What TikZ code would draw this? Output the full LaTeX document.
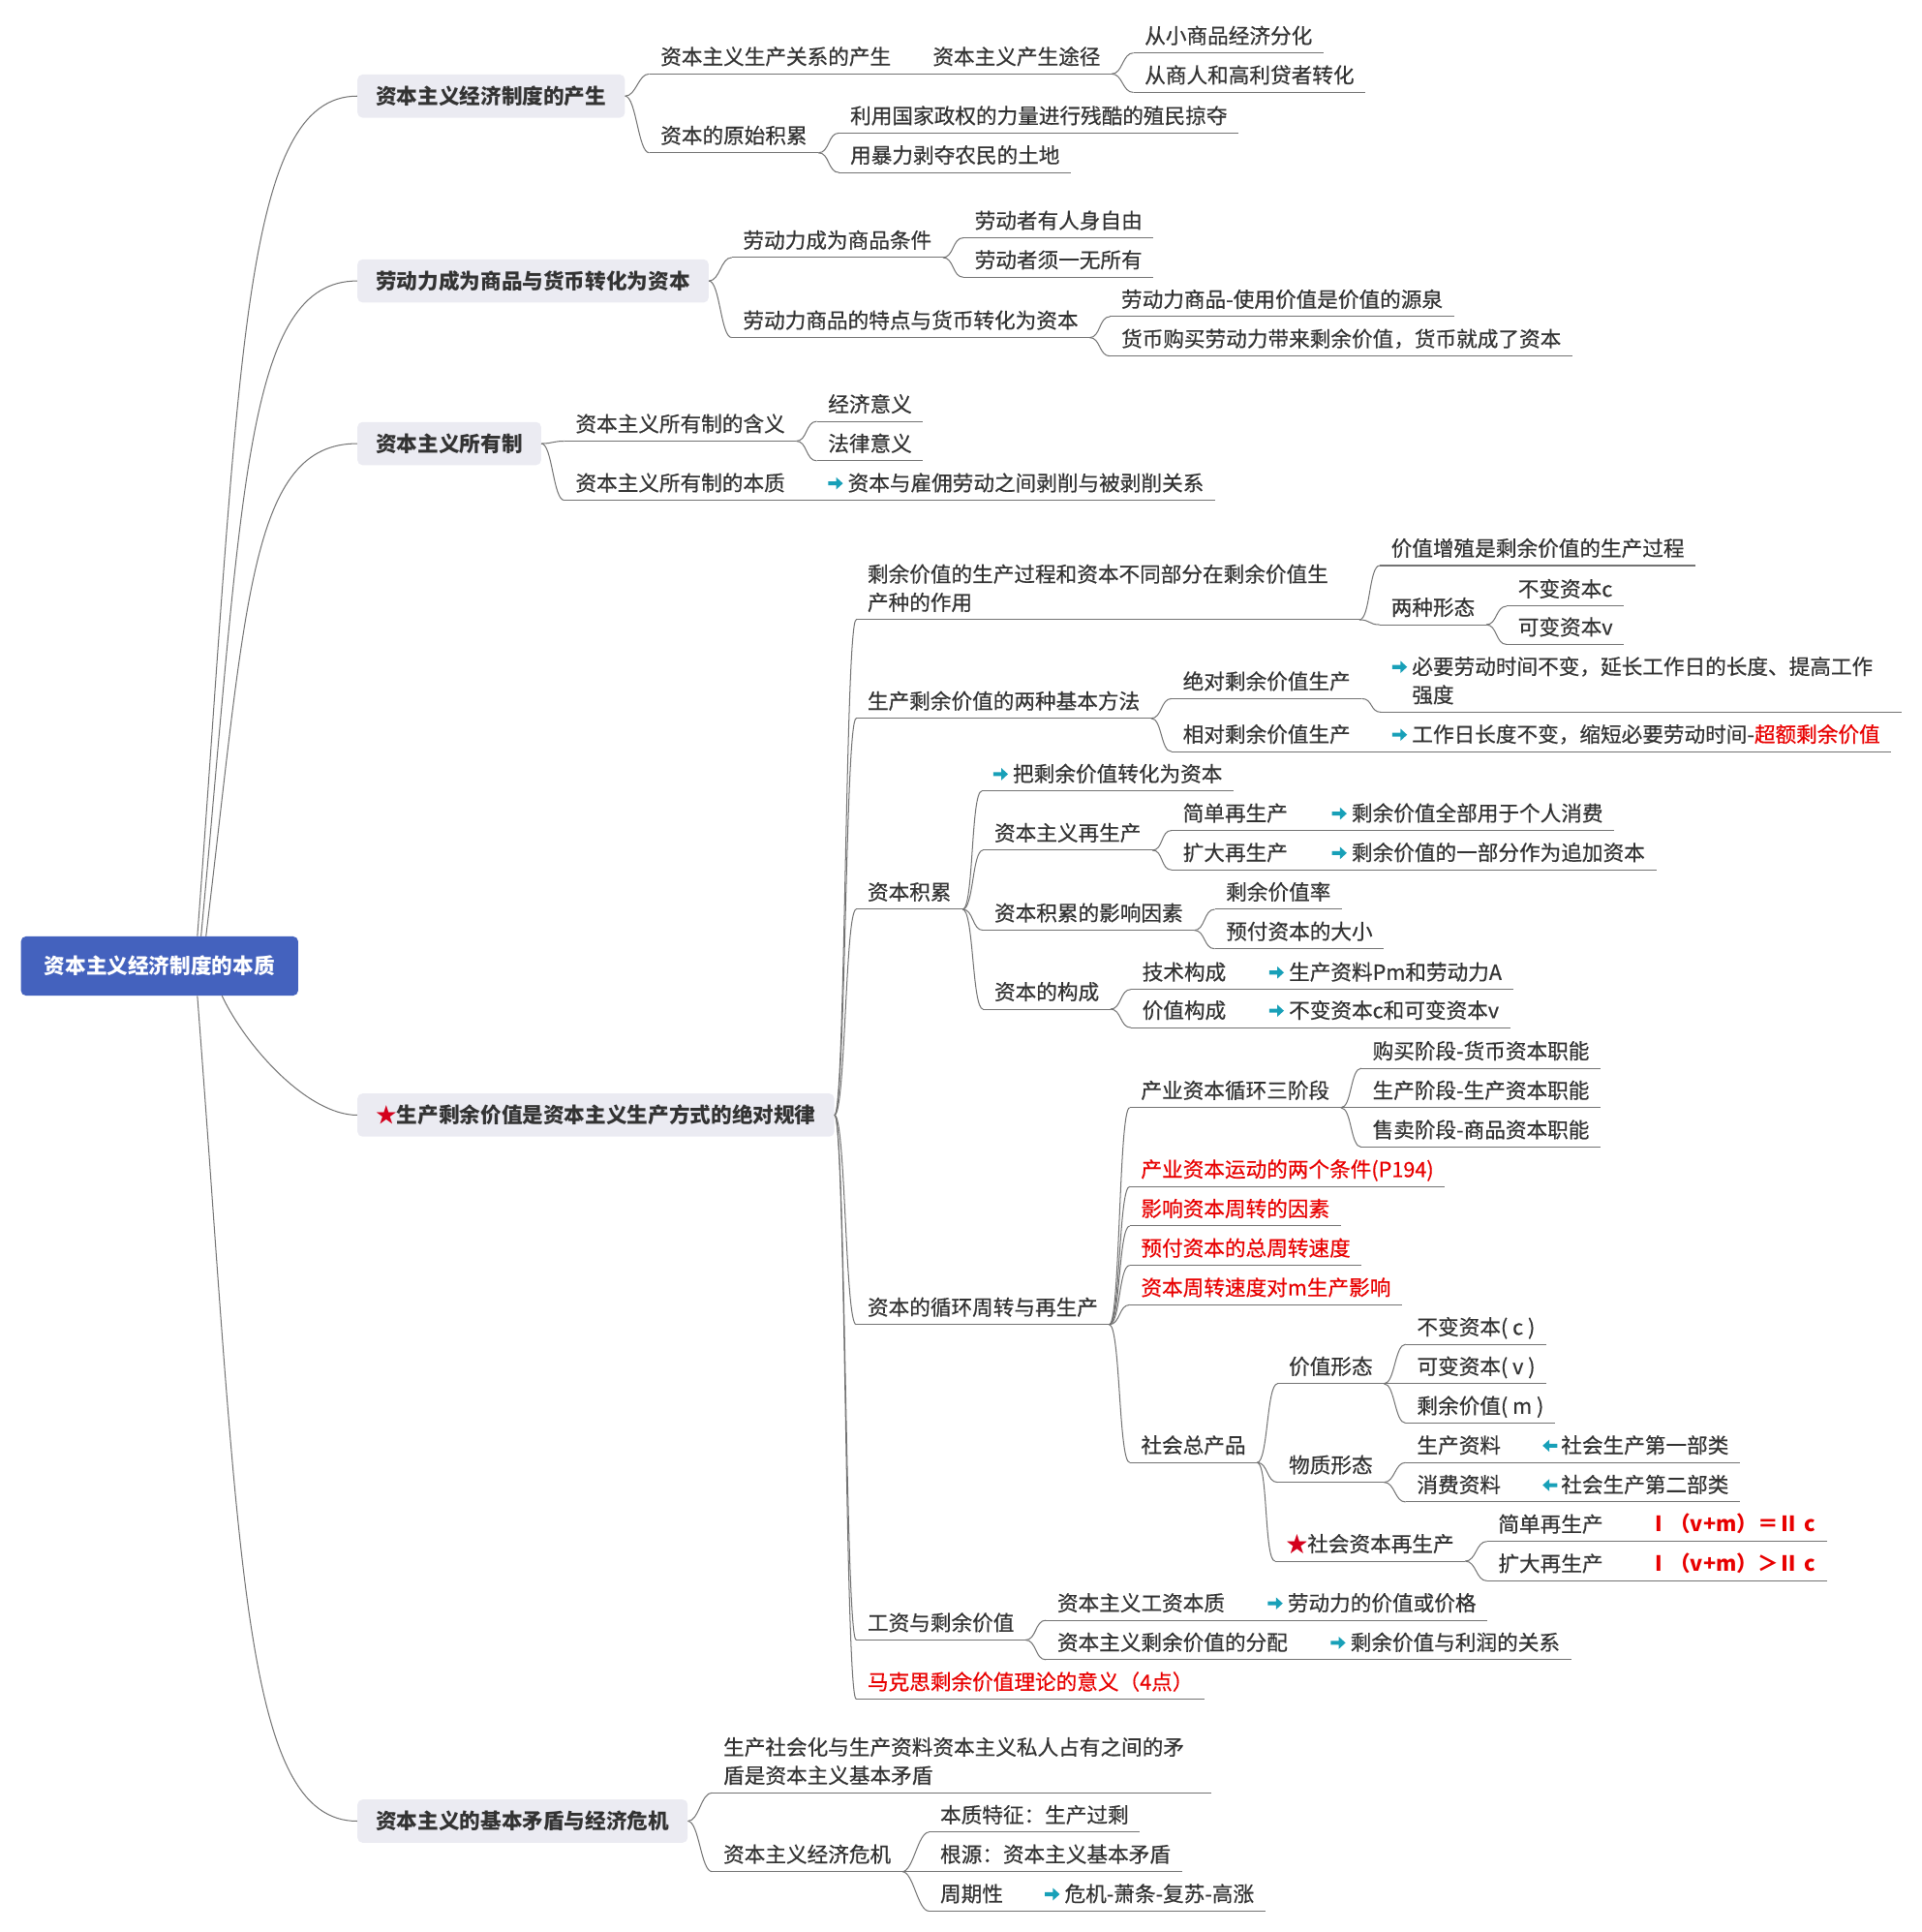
\documentclass[tikz,border=0pt]{standalone}
\usepackage{fontspec}
\setmainfont{Noto Sans CJK SC}[UprightFeatures={FakeBold=0.45}]
\definecolor{rootblue}{RGB}{68,98,190}
\definecolor{mainfill}{RGB}{235,235,242}
\definecolor{linegray}{RGB}{115,115,115}
\definecolor{textgray}{RGB}{51,51,51}
\definecolor{hotred}{RGB}{232,0,0}
\definecolor{starred}{RGB}{212,0,28}
\definecolor{iconteal}{RGB}{24,160,184}
% small arrow icons in front of some topics
\newcommand{\iconright}{\tikz[x=1pt,y=1pt,baseline=0pt]\fill[iconteal] (0,4.4) -- (6.5,4.4) -- (6.5,1) -- (12,6) -- (6.5,11) -- (6.5,7.6) -- (0,7.6) -- cycle;\hspace{4pt}}
\newcommand{\iconleft}{\tikz[x=1pt,y=1pt,baseline=0pt]\fill[iconteal] (12,4.4) -- (5.5,4.4) -- (5.5,1) -- (0,6) -- (5.5,11) -- (5.5,7.6) -- (12,7.6) -- cycle;\hspace{3pt}}
\tikzset{%
	root/.style    = {fill=rootblue, rounded corners=4pt, text=white, font=\bfseries\fontsize{17}{23}\selectfont,
		minimum width=225pt, minimum height=48pt},
	main/.style    = {fill=mainfill, rounded corners=4pt, anchor=west, font=\bfseries\fontsize{17}{23}\selectfont,
		minimum height=35pt, inner xsep=15pt},
	topic/.style   = {anchor=south west, inner xsep=9pt, inner ysep=0pt, text height=12.5pt, text depth=7.5pt},
	hot/.style     = {topic, text=hotred},
	formula/.style = {hot, font=\bfseries\fontsize{17}{23}\selectfont},
	twoline/.style = {align=left, text depth=30.5pt},
	branch/.style  = {draw=linegray, line width=0.8pt},
	scurve/.style  = {to path={.. controls +(9,0) and +(-9,0) .. (\tikztotarget)}}
}

\begin{document}
\begin{tikzpicture}[x=1pt,y=-1pt,font=\fontsize{17}{23}\selectfont,text=textgray]
	\useasboundingbox (0,0) rectangle (1560,1568);

	\node[root] (root) at (129.5,784) {资本主义经济制度的本质};
	\node[main] (pA) at (290,78)   {资本主义经济制度的产生};
	\node[main] (pB) at (290,228)  {劳动力成为商品与货币转化为资本};
	\node[main] (pC) at (290,360)  {资本主义所有制};
	\node[main] (pD) at (290,905)  {\textcolor{starred}{★}生产剩余价值是资本主义生产方式的绝对规律};
	\node[main] (pE) at (290,1478) {资本主义的基本矛盾与经济危机};

	% 产生
	\node[topic] (a1)   at (527,60)  {资本主义生产关系的产生};
	\node[topic] (a11)  at (748,60)  {资本主义产生途径};
	\node[topic] (a111) at (920,43)  {从小商品经济分化};
	\node[topic] (a112) at (920,75)  {从商人和高利贷者转化};
	\node[topic] (a2)   at (527,124) {资本的原始积累};
	\node[topic] (a21)  at (681,108) {利用国家政权的力量进行残酷的殖民掠夺};
	\node[topic] (a22)  at (681,140) {用暴力剥夺农民的土地};

	% 劳动力
	\node[topic] (b1)  at (594,209) {劳动力成为商品条件};
	\node[topic] (b11) at (782,193) {劳动者有人身自由};
	\node[topic] (b12) at (782,225) {劳动者须一无所有};
	\node[topic] (b2)  at (594,274) {劳动力商品的特点与货币转化为资本};
	\node[topic] (b21) at (901,257) {劳动力商品-使用价值是价值的源泉};
	\node[topic] (b22) at (901,289) {货币购买劳动力带来剩余价值，货币就成了资本};

	% 所有制
	\node[topic] (c1)  at (458,358) {资本主义所有制的含义};
	\node[topic] (c11) at (663,342) {经济意义};
	\node[topic] (c12) at (663,374) {法律意义};
	\node[topic] (c2)  at (458,406) {资本主义所有制的本质};
	\node[topic] (c21) at (663,406) {\iconright 资本与雇佣劳动之间剥削与被剥削关系};

	% 剩余价值
	\node[topic,twoline,text width=390pt] (d1) at (695,503) {剩余价值的生产过程和资本不同部分在剩余价值生\\产种的作用};
	\node[topic] (d11)  at (1120,459) {价值增殖是剩余价值的生产过程};
	\node[topic] (d12)  at (1120,507) {两种形态};
	\node[topic] (d121) at (1223,492) {不变资本c};
	\node[topic] (d122) at (1223,523) {可变资本v};

	\node[topic] (d2)   at (695,583)  {生产剩余价值的两种基本方法};
	\node[topic] (d21)  at (951,567)  {绝对剩余价值生产};
	\node[topic,twoline,text width=404pt] (d211) at (1121,578) {\iconright 必要劳动时间不变，延长工作日的长度、提高工作\\\hspace*{16pt}强度};
	\node[topic] (d22)  at (951,610)  {相对剩余价值生产};
	\node[topic] (d221) at (1121,610) {\iconright 工作日长度不变，缩短必要劳动时间-\textcolor{hotred}{超额剩余价值}};

	\node[topic] (d3)    at (695,738)  {资本积累};
	\node[topic] (d31)   at (797,642)  {\iconright 把剩余价值转化为资本};
	\node[topic] (d32)   at (798,690)  {资本主义再生产};
	\node[topic] (d321)  at (951,674)  {简单再生产};
	\node[topic] (d3211) at (1072,674) {\iconright 剩余价值全部用于个人消费};
	\node[topic] (d322)  at (951,706)  {扩大再生产};
	\node[topic] (d3221) at (1072,706) {\iconright 剩余价值的一部分作为追加资本};
	\node[topic] (d33)   at (798,755)  {资本积累的影响因素};
	\node[topic] (d331)  at (986,738)  {剩余价值率};
	\node[topic] (d332)  at (986,770)  {预付资本的大小};
	\node[topic] (d34)   at (798,819)  {资本的构成};
	\node[topic] (d341)  at (918,803)  {技术构成};
	\node[topic] (d3411) at (1021,803) {\iconright 生产资料Pm和劳动力A};
	\node[topic] (d342)  at (918,834)  {价值构成};
	\node[topic] (d3421) at (1021,834) {\iconright 不变资本c和可变资本v};

	\node[topic] (d4)   at (695,1075) {资本的循环周转与再生产};
	\node[topic] (d41)  at (917,899)  {产业资本循环三阶段};
	\node[topic] (d411) at (1105,867) {购买阶段-货币资本职能};
	\node[topic] (d412) at (1105,899) {生产阶段-生产资本职能};
	\node[topic] (d413) at (1105,931) {售卖阶段-商品资本职能};
	\node[hot]   (d42)  at (917,963)  {产业资本运动的两个条件(P194)};
	\node[hot]   (d43)  at (917,995)  {影响资本周转的因素};
	\node[hot]   (d44)  at (917,1027) {预付资本的总周转速度};
	\node[hot]   (d45)  at (917,1059) {资本周转速度对m生产影响};
	\node[topic] (d46)  at (917,1187) {社会总产品};
	\node[topic] (d461)   at (1037,1123) {价值形态};
	\node[topic] (d4611)  at (1141,1091) {不变资本( c )};
	\node[topic] (d4612)  at (1141,1123) {可变资本( v )};
	\node[topic] (d4613)  at (1141,1155) {剩余价值( m )};
	\node[topic] (d462)   at (1037,1203) {物质形态};
	\node[topic] (d4621)  at (1141,1187) {生产资料};
	\node[topic] (d46211) at (1243,1187) {\iconleft 社会生产第一部类};
	\node[topic] (d4622)  at (1141,1219) {消费资料};
	\node[topic] (d46221) at (1243,1219) {\iconleft 社会生产第二部类};
	\node[topic] (d463)   at (1035,1267) {\textcolor{starred}{★}社会资本再生产};
	\node[topic] (d4631)  at (1207,1251) {简单再生产};
	\node[formula] (d46311) at (1329,1251) {Ⅰ（v+m）＝Ⅱ c};
	\node[topic] (d4632)  at (1207,1283) {扩大再生产};
	\node[formula] (d46321) at (1329,1283) {Ⅰ（v+m）＞Ⅱ c};

	\node[topic] (d5)   at (695,1331)  {工资与剩余价值};
	\node[topic] (d51)  at (849,1315)  {资本主义工资本质};
	\node[topic] (d511) at (1020,1315) {\iconright 劳动力的价值或价格};
	\node[topic] (d52)  at (849,1347)  {资本主义剩余价值的分配};
	\node[topic] (d521) at (1071,1347) {\iconright 剩余价值与利润的关系};
	\node[hot]   (d6)   at (695,1379)  {马克思剩余价值理论的意义（4点）};

	% 矛盾与危机
	\node[topic,twoline,text width=387pt] (e1) at (578,1455) {生产社会化与生产资料资本主义私人占有之间的矛\\盾是资本主义基本矛盾};
	\node[topic] (e2)   at (578,1519) {资本主义经济危机};
	\node[topic] (e21)  at (754,1487) {本质特征：生产过剩};
	\node[topic] (e22)  at (754,1519) {根源：资本主义基本矛盾};
	\node[topic] (e23)  at (754,1551) {周期性};
	\node[topic] (e231) at (839,1551) {\iconright 危机-萧条-复苏-高涨};

	% root to main topics
	\draw[branch] ([xshift=-82pt]root.north east) .. controls (195,296) and (196,78) .. (pA.west);
	\draw[branch] ([xshift=-79pt]root.north east) .. controls (197,398) and (199,228) .. (pB.west);
	\draw[branch] ([xshift=-75pt]root.north east) .. controls (200,488) and (203,360) .. (pC.west);
	\draw[branch] ([xshift=-62pt]root.south east) .. controls (200,850) and (250,905) .. (pD.west);
	\draw[branch] ([xshift=-82pt]root.south east) .. controls (195,1264) and (196,1478) .. (pE.west);

	\foreach \p/\c in {pA/a1,pA/a2,pB/b1,pB/b2,pC/c1,pC/c2,pD/d1,pD/d2,pD/d3,pD/d4,pD/d5,pD/d6,pE/e1,pE/e2}
		\draw[branch] (\p.east) to[scurve] (\c.south west);

	\foreach \p/\c in {a1/a11,a11/a111,a11/a112,a2/a21,a2/a22,b1/b11,b1/b12,b2/b21,b2/b22,c1/c11,c1/c12,c2/c21,
		d1/d11,d1/d12,d12/d121,d12/d122,d2/d21,d2/d22,d21/d211,d22/d221,d3/d31,d3/d32,d3/d33,d3/d34,
		d32/d321,d32/d322,d321/d3211,d322/d3221,d33/d331,d33/d332,d34/d341,d34/d342,d341/d3411,d342/d3421,
		d4/d41,d4/d42,d4/d43,d4/d44,d4/d45,d4/d46,d41/d411,d41/d412,d41/d413,d46/d461,d46/d462,d46/d463,
		d461/d4611,d461/d4612,d461/d4613,d462/d4621,d462/d4622,d4621/d46211,d4622/d46221,
		d463/d4631,d463/d4632,d4631/d46311,d4632/d46321,d5/d51,d5/d52,d51/d511,d52/d521,
		e2/e21,e2/e22,e2/e23,e23/e231}
		\draw[branch] (\p.south east) to[scurve] (\c.south west);

	% underlines
	\foreach \n in {a1,a11,a111,a112,a2,a21,a22,b1,b11,b12,b2,b21,b22,c1,c11,c12,c2,c21,
		d1,d11,d12,d121,d122,d2,d21,d211,d22,d221,d3,d31,d32,d321,d3211,d322,d3221,d33,d331,d332,
		d34,d341,d3411,d342,d3421,d4,d41,d411,d412,d413,d42,d43,d44,d45,d46,d461,d4611,d4612,d4613,
		d462,d4621,d46211,d4622,d46221,d463,d4631,d46311,d4632,d46321,d5,d51,d511,d52,d521,d6,
		e1,e2,e21,e22,e23,e231}
		\draw[branch] (\n.south west) -- (\n.south east);
\end{tikzpicture}
\end{document}
